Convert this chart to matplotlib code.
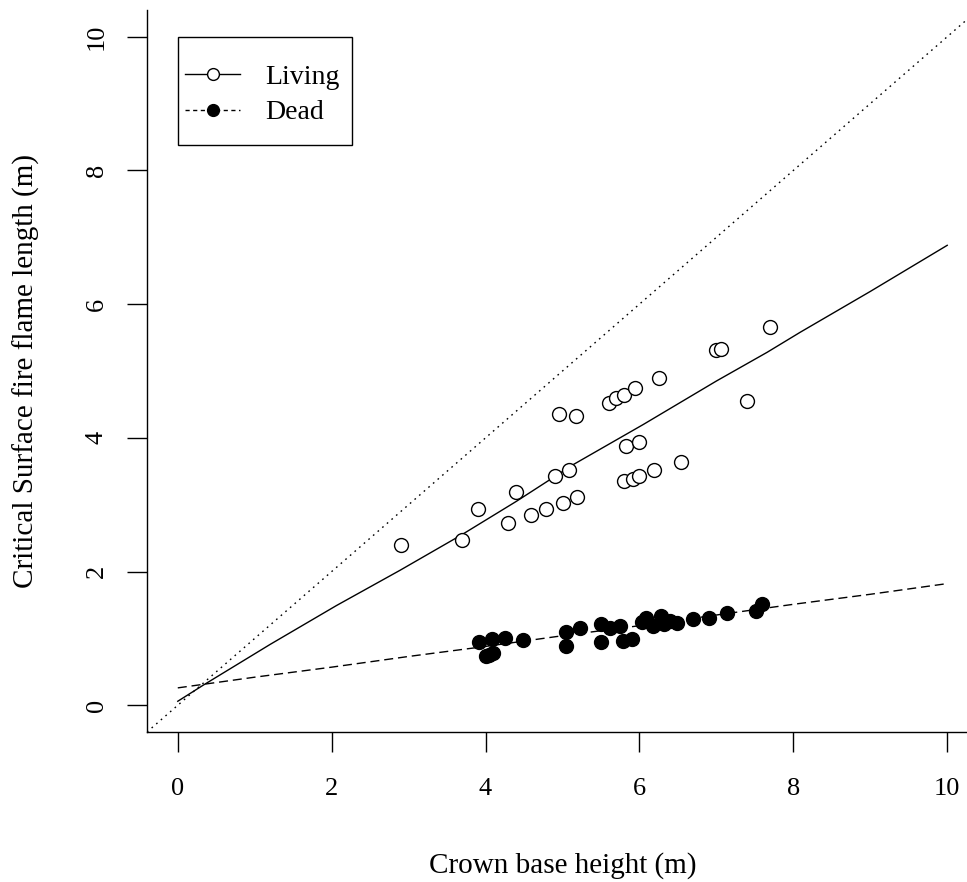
import matplotlib
matplotlib.use("Agg")
import matplotlib.pyplot as plt
from matplotlib.lines import Line2D
from matplotlib.patches import Rectangle

# observed points, living crown
living_x = [2.90, 3.69, 3.90, 4.29, 4.39, 4.59, 4.79, 4.90, 5.00, 5.08, 5.19,
            4.96, 5.18, 5.60, 5.70, 5.80, 5.94, 6.25, 5.83, 6.00, 5.80, 5.91,
            6.00, 6.19, 6.54, 7.00, 7.06, 7.40, 7.70]
living_y = [2.39, 2.47, 2.93, 2.72, 3.19, 2.85, 2.93, 3.43, 3.02, 3.52, 3.12,
            4.36, 4.32, 4.52, 4.60, 4.64, 4.74, 4.90, 3.88, 3.94, 3.35, 3.39,
            3.43, 3.52, 3.64, 5.31, 5.33, 4.55, 5.66]

# observed points, dead crown
dead_x = [3.91, 4.04, 4.01, 4.10, 4.08, 4.25, 4.49, 5.04, 5.04, 5.23, 5.50,
          5.50, 5.62, 5.75, 5.79, 5.90, 6.03, 6.09, 6.18, 6.28, 6.32, 6.40,
          6.49, 6.70, 6.90, 7.14, 7.52, 7.59]
dead_y = [0.95, 0.75, 0.74, 0.78, 0.99, 1.01, 0.98, 1.09, 0.89, 1.15, 1.21,
          0.95, 1.16, 1.19, 0.96, 0.99, 1.24, 1.31, 1.19, 1.33, 1.21, 1.26,
          1.23, 1.29, 1.31, 1.38, 1.41, 1.51]

# fitted curves
living_fit_x = [0.0, 0.33, 1.20, 2.06, 2.89, 3.69, 4.40, 5.14, 6.05, 7.00,
                7.66, 8.09, 9.00, 10.0]
living_fit_y = [0.06, 0.30, 0.91, 1.49, 2.02, 2.55, 3.05, 3.60, 4.20, 4.85,
                5.28, 5.58, 6.19, 6.88]
dead_fit_x = [0, 1, 2, 3, 4, 5, 6, 7, 8, 9, 10]
dead_fit_y = [0.26, 0.42, 0.57, 0.73, 0.88, 1.04, 1.19, 1.35, 1.51, 1.66, 1.82]

xticks = [0, 2, 4, 6, 8, 10]
yticks = [0, 2, 4, 6, 8, 10]

plt.rcParams["font.family"] = ["Liberation Serif", "DejaVu Serif"]

W, H = 967, 882
fig = plt.figure(figsize=(W / 100, H / 100), dpi=100)
ax = fig.add_axes([147 / W, 1 - 732 / H, 831 / W, 722 / H])

ax.axline((0, 0), slope=1, color="black", lw=1.0, ls=(0, (1.2, 3.2)))
ax.plot(living_fit_x, living_fit_y, color="black", lw=1.0, ls="-")
ax.plot(dead_fit_x, dead_fit_y, color="black", lw=1.0, ls=(0, (6.5, 3.5)))
ax.plot(living_x, living_y, ls="none", marker="o", ms=10, mfc="white",
        mec="black", mew=1.0)
ax.plot(dead_x, dead_y, ls="none", marker="o", ms=10, mfc="black",
        mec="black", mew=1.0)

ax.set_xlim(-0.4, 10.4)
ax.set_ylim(-0.4, 10.4)
ax.set_xticks(xticks)
ax.set_yticks(yticks)
ax.set_xticklabels([str(t) for t in xticks], fontsize=19)
ax.set_yticklabels([str(t) for t in yticks], fontsize=19, rotation=90,
                   va="center")
ax.tick_params(direction="out", length=14.4, width=1.0)
ax.tick_params(axis="x", pad=19)
ax.tick_params(axis="y", pad=14)
ax.spines["top"].set_visible(False)
ax.spines["right"].set_visible(False)
for s in ("left", "bottom"):
    ax.spines[s].set_linewidth(1.0)

ax.set_xlabel("Crown base height (m)", fontsize=21, labelpad=37)
ax.set_ylabel("Critical Surface fire flame length (m)", fontsize=21,
              labelpad=33)

# legend: R style box drawn by hand
handles = [
    Line2D([], [], color="black", lw=1.0, marker="o", ms=8.5, mfc="white",
           mec="black"),
    Line2D([], [], color="black", lw=1.0, ls=(0, (3, 2.5)), marker="o",
           ms=8.5, mfc="black", mec="black"),
]
leg = ax.legend(handles, ["Living", "Dead"], loc="center left",
                bbox_to_anchor=(185 / W, 1 - 95 / H),
                bbox_transform=fig.transFigure,
                fontsize=20, frameon=False, borderpad=0, borderaxespad=0,
                handlelength=1.98, handletextpad=0.9, labelspacing=0.35)
fig.add_artist(Rectangle((178 / W, 1 - 145 / H), 174 / W, 108 / H,
                         transform=fig.transFigure, fill=False,
                         edgecolor="black", lw=1.0))

fig.savefig("out.png", dpi=100)
